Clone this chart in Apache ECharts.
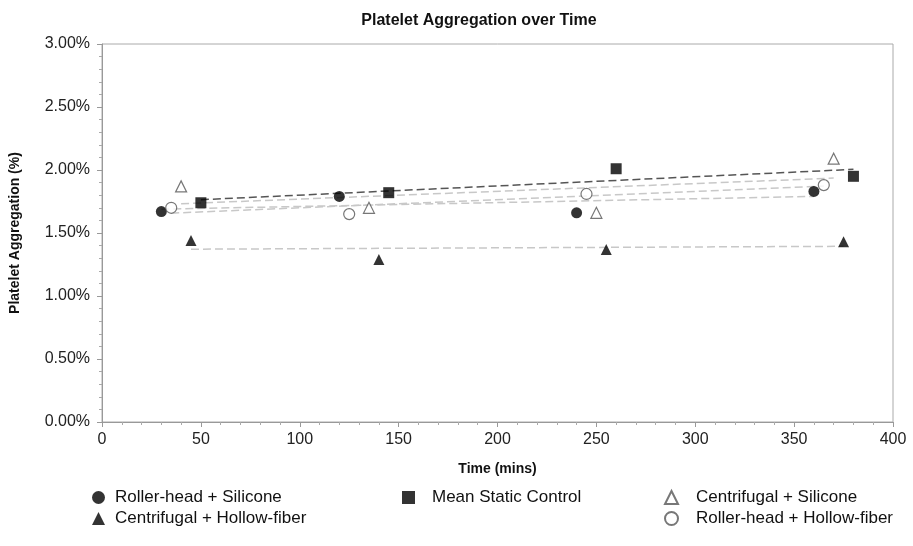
<!DOCTYPE html>
<html>
<head>
<meta charset="utf-8">
<title>Platelet Aggregation over Time</title>
<script src="https://cdn.jsdelivr.net/npm/echarts@6/dist/echarts.min.js"></script>
<style>
  html, body { margin: 0; padding: 0; background: #fff; }
  #chart { width: 913px; height: 546px; }
</style>
</head>
<body>
<div id="chart"></div>
<script>
// times (mins) and aggregation (%)
const rollerSiliconeX = [30, 120, 240, 360]
const rollerSiliconeY = [1.67, 1.79, 1.66, 1.83]
const rollerHollowX = [35, 125, 245, 365]
const rollerHollowY = [1.70, 1.65, 1.81, 1.88]
const centSiliconeX = [40, 135, 250, 370]
const centSiliconeY = [1.87, 1.70, 1.66, 2.09]
const centHollowX = [45, 140, 255, 375]
const centHollowY = [1.44, 1.29, 1.37, 1.43]
const staticX = [50, 145, 260, 380]
const staticY = [1.74, 1.82, 2.01, 1.95]

const font = '"Liberation Sans", Arial, sans-serif'

function pairs (xs, ys) {
  return xs.map((x, i) => [x, ys[i]])
}

// least squares trend line, from first to last x
function trend (xs, ys) {
  const n = xs.length
  const mx = xs.reduce((a, b) => a + b, 0) / n
  const my = ys.reduce((a, b) => a + b, 0) / n
  let sxy = 0
  let sxx = 0
  xs.forEach((x, i) => {
    sxy += (x - mx) * (ys[i] - my)
    sxx += (x - mx) * (x - mx)
  })
  const k = sxy / sxx
  const x0 = xs[0]
  const x1 = xs[n - 1]
  return [[x0, my + k * (x0 - mx)], [x1, my + k * (x1 - mx)]]
}

function trendSeries (xs, ys, color) {
  return {
    type: 'line',
    data: trend(xs, ys),
    symbol: 'none',
    silent: true,
    z: 1,
    lineStyle: { color: color, width: 1.5, type: [8, 4] }
  }
}

function dotSeries (name, xs, ys, symbol, size, open) {
  return {
    name: name,
    type: 'scatter',
    data: pairs(xs, ys),
    symbol: symbol,
    symbolSize: size,
    z: 3,
    itemStyle: open
      ? { color: '#fff', borderColor: '#555', borderWidth: 1.2 }
      : { color: '#000' }
  }
}

function legendText (gap) {
  return { fontFamily: font, fontSize: 17, color: '#111', padding: [0, 0, 0, gap] }
}

const chart = echarts.init(document.getElementById('chart'))
const option = {
  animation: false,
  title: {
    text: 'Platelet Aggregation over Time',
    left: 474,
    textAlign: 'center',
    top: 8,
    textStyle: { fontFamily: font, fontSize: 16, fontWeight: 'bold', color: '#111' }
  },
  grid: {
    left: 101,
    right: 20,
    top: 44,
    bottom: 124,
    show: true,
    borderColor: '#aaa',
    borderWidth: 1
  },
  legend: [
    {
      orient: 'vertical',
      left: 87,
      top: 484,
      itemWidth: 13,
      itemHeight: 13,
      itemGap: 4,
      textStyle: legendText(5),
      data: ['Roller-head + Silicone', 'Centrifugal + Hollow-fiber']
    },
    {
      left: 397,
      top: 484,
      itemWidth: 13,
      itemHeight: 13,
      textStyle: legendText(12),
      data: ['Mean Static Control']
    },
    {
      orient: 'vertical',
      left: 659,
      top: 484,
      itemWidth: 13,
      itemHeight: 13,
      itemGap: 4,
      textStyle: legendText(13),
      data: ['Centrifugal + Silicone', 'Roller-head + Hollow-fiber']
    }
  ],
  xAxis: {
    type: 'value',
    min: 0,
    max: 400,
    interval: 50,
    name: 'Time (mins)',
    nameLocation: 'middle',
    nameGap: 40,
    nameTextStyle: { fontFamily: font, fontSize: 14, fontWeight: 'bold', color: '#111' },
    axisLine: { lineStyle: { color: '#999' } },
    axisTick: { length: 5, lineStyle: { color: '#999' } },
    minorTick: { show: true, splitNumber: 5, length: 3, lineStyle: { color: '#aaa' } },
    splitLine: { show: false },
    axisLabel: { fontFamily: font, fontSize: 16, color: '#222', margin: 10 }
  },
  yAxis: {
    type: 'value',
    min: 0,
    max: 3,
    interval: 0.5,
    name: 'Platelet Aggregation (%)',
    nameLocation: 'middle',
    nameGap: 80,
    nameTextStyle: { fontFamily: font, fontSize: 14, fontWeight: 'bold', color: '#111' },
    axisLine: { show: true, lineStyle: { color: '#999' } },
    axisTick: { show: true, length: 5, lineStyle: { color: '#999' } },
    minorTick: { show: true, splitNumber: 5, length: 3, lineStyle: { color: '#aaa' } },
    splitLine: { show: false },
    axisLabel: {
      fontFamily: font,
      fontSize: 16,
      color: '#222',
      margin: 12,
      formatter: v => v.toFixed(2) + '%'
    }
  },
  series: [
    trendSeries(rollerSiliconeX, rollerSiliconeY, '#c8c8c8'),
    trendSeries(rollerHollowX, rollerHollowY, '#c8c8c8'),
    trendSeries(centSiliconeX, centSiliconeY, '#c8c8c8'),
    trendSeries(centHollowX, centHollowY, '#c8c8c8'),
    trendSeries(staticX, staticY, '#555'),
    dotSeries('Roller-head + Silicone', rollerSiliconeX, rollerSiliconeY, 'circle', 11, false),
    dotSeries('Mean Static Control', staticX, staticY, 'rect', 11, false),
    dotSeries('Centrifugal + Silicone', centSiliconeX, centSiliconeY, 'triangle', 11, true),
    dotSeries('Centrifugal + Hollow-fiber', centHollowX, centHollowY, 'triangle', 11, false),
    dotSeries('Roller-head + Hollow-fiber', rollerHollowX, rollerHollowY, 'circle', 11, true)
  ]
}
chart.setOption(option)
</script>
</body>
</html>
